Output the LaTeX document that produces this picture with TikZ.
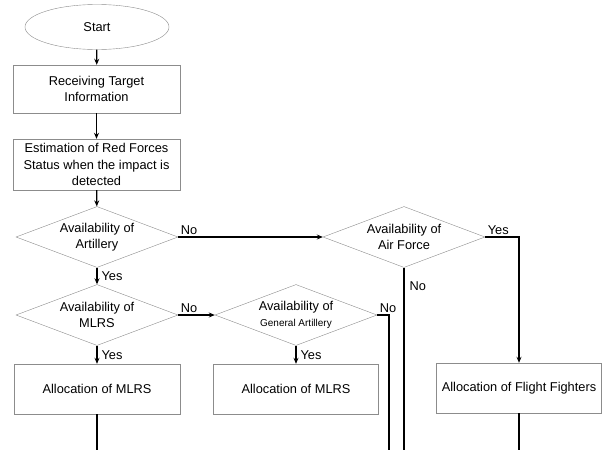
\documentclass[tikz,border=0pt]{standalone}
\usepackage{fontspec}
\setmainfont{Liberation Sans}
\usetikzlibrary{shapes.geometric,arrows.meta}
\tikzset{
  startnode/.style={draw=gray!90, ellipse, minimum width=144pt, minimum height=45pt, inner sep=0pt},
  taskbox/.style={draw=gray!90, align=center, inner sep=0pt},
  choice/.style={draw=gray!90, diamond, aspect=2.6, minimum width=162pt, minimum height=61pt, inner sep=0pt, align=center},
  flow/.style={line width=1.2pt, -{Stealth[length=6pt,width=5pt]}},
  flowline/.style={line width=1.2pt},
  answer/.style={inner sep=2pt, font=\fontsize{12.8}{14}\selectfont}
}
\begin{document}
\begin{tikzpicture}[x=1pt, y=-1pt, font=\fontsize{12.8}{16.5}\selectfont]
  \useasboundingbox (0,0) rectangle (610,450);
  \node[startnode] (start) at (97,27) {Start};
  \node[taskbox, minimum width=167pt, minimum height=48pt] (recv) at (96.5,89) {Receiving Target\\Information};
  \node[taskbox, minimum width=167pt, minimum height=51pt] (estim) at (96.5,164.5) {Estimation of Red Forces\\Status when the impact is\\detected};
  \node[choice] (art) at (97,237) {Availability of\\Artillery};
  \node[choice] (air) at (404,237) {Availability of\\Air Force};
  \node[choice] (mlrs) at (97,315) {Availability of\\MLRS};
  \node[choice] (genart) at (296,315) {Availability of\\{\fontsize{10}{12}\selectfont General Artillery}};
  \node[taskbox, minimum width=166pt, minimum height=50pt] (allocA) at (97,389) {Allocation of MLRS};
  \node[taskbox, minimum width=165pt, minimum height=50pt] (allocB) at (296,389) {Allocation of MLRS};
  \node[taskbox, minimum width=165pt, minimum height=50pt] (allocF) at (519,388) {Allocation of Flight Fighters};
  \coordinate (endA) at (97,450);
  \coordinate (endB) at (389,450);
  \coordinate (endC) at (404,450);
  \coordinate (endF) at (519,450);
  \coordinate (turnB) at (389,315);
  \coordinate (turnF) at (519,237);

  \draw[flow] (start) -- (recv);
  \draw[flow] (recv) -- (estim);
  \draw[flow] (estim) -- (art);
  \draw[flow] (art.east) -- node[answer, at start, above right] {No} (air.west);
  \draw[flow] (art.south) -- node[answer, midway, right, xshift=2pt] {Yes} (mlrs.north);
  \draw[flow] (mlrs.east) -- node[answer, at start, above right] {No} (genart.west);
  \draw[flow] (mlrs.south) -- node[answer, midway, right, xshift=2pt] {Yes} (allocA.north);
  \draw[flow] (genart.south) -- node[answer, midway, right, xshift=2pt] {Yes} (allocB.north);
  \draw[flowline] (genart.east) -- node[answer, at start, above right] {No} (turnB) -- (endB);
  \draw[flow] (air.east) -- node[answer, at start, above right] {Yes} (turnF) -- (allocF.north);
  \draw[flowline] (air.south) -- node[answer, pos=0.1, right, xshift=3pt] {No} (endC);
  \draw[flowline] (allocA) -- (endA);
  \draw[flowline] (allocF) -- (endF);
\end{tikzpicture}
\end{document}
